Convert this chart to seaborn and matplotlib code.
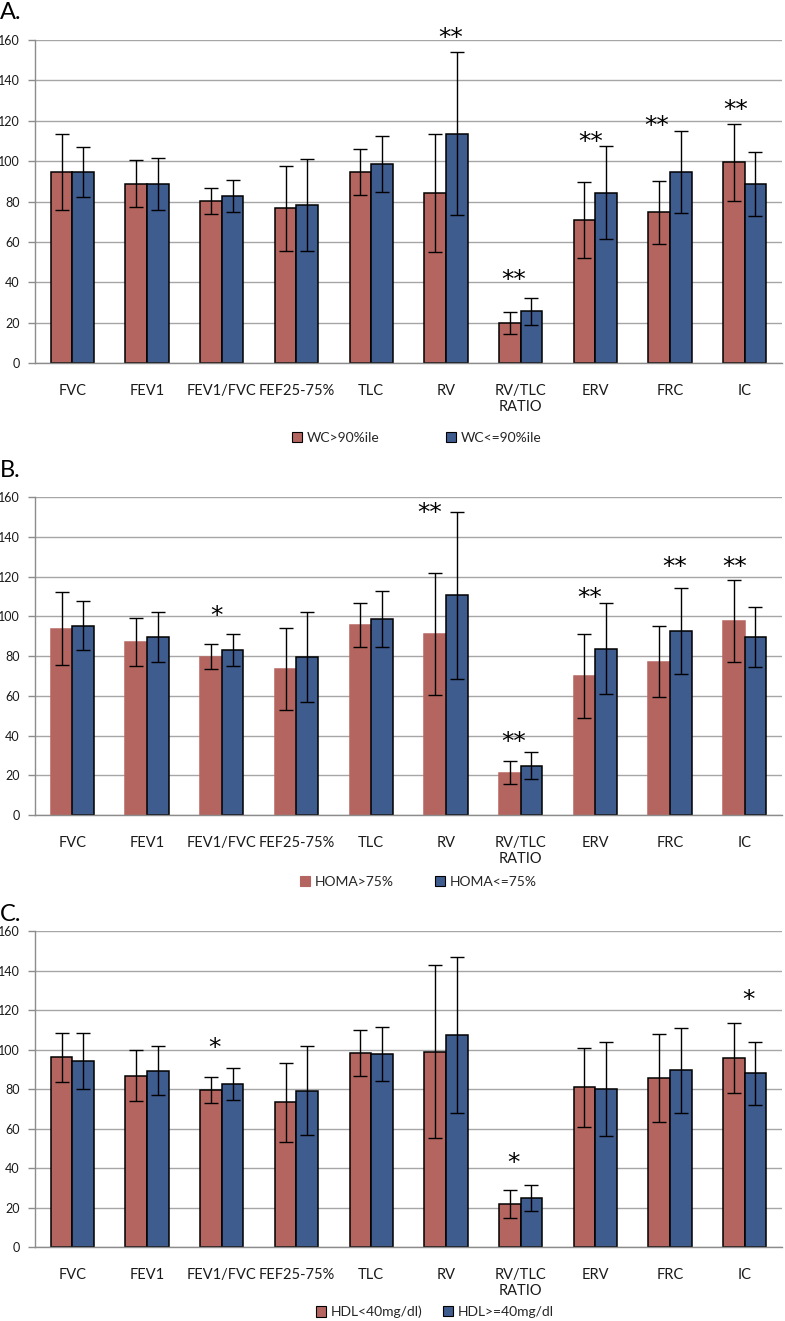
import matplotlib
matplotlib.use("Agg")
from matplotlib import pyplot as plt
import seaborn as sns
import pandas as pd

tests = ["FVC", "FEV1", "FEV1/FVC", "FEF25-75%", "TLC", "RV",
         "RV/TLC\nRATIO", "ERV", "FRC", "IC"]

# panel A: waist circumference
a_groups = ["WC>90%ile", "WC<=90%ile"]
a_hi_mean = [94.7, 88.9, 80.3, 76.7, 94.5, 84.1, 19.8, 70.9, 74.6, 99.5]
a_hi_sd = [18.8, 11.8, 6.5, 21.0, 11.5, 29.1, 5.3, 19.0, 15.8, 19.0]
a_lo_mean = [94.7, 88.9, 82.6, 78.4, 98.8, 113.6, 25.6, 84.3, 94.4, 88.7]
a_lo_sd = [12.5, 12.9, 8.0, 22.8, 13.9, 40.3, 6.8, 23.0, 20.3, 15.7]
a_stars = [(5.07, 164, "**"), (5.91, 43.7, "**"), (6.94, 112, "**"),
           (7.82, 120.4, "**"), (8.88, 128.3, "**")]

# panel B: HOMA
b_groups = ["HOMA>75%", "HOMA<=75%"]
b_hi_mean = [93.8, 87.0, 79.7, 73.5, 95.5, 91.0, 21.3, 70.0, 77.1, 97.5]
b_hi_sd = [18.4, 12.1, 6.4, 20.7, 11.1, 30.8, 5.9, 21.2, 17.9, 20.6]
b_lo_mean = [95.3, 89.6, 82.9, 79.4, 98.5, 110.6, 24.8, 83.8, 92.6, 89.6]
b_lo_sd = [12.3, 12.7, 8.1, 22.7, 14.1, 41.9, 6.8, 22.7, 21.5, 15.3]
b_stars = [(1.93, 103, "*"), (4.79, 155, "**"), (5.91, 39.7, "**"),
           (6.92, 111.9, "**"), (8.06, 127.8, "**"), (8.87, 127.8, "**")]

# panel C: HDL
c_groups = ["HDL<40mg/dl)", "HDL>=40mg/dl"]
c_hi_mean = [96.0, 86.8, 79.5, 73.2, 98.2, 98.9, 21.9, 80.8, 85.4, 95.7]
c_hi_sd = [12.3, 12.9, 6.7, 20.0, 11.6, 43.9, 7.2, 20.2, 22.3, 17.5]
c_lo_mean = [94.3, 89.3, 82.5, 79.2, 97.7, 107.3, 24.8, 80.0, 89.5, 87.9]
c_lo_sd = [14.3, 12.4, 8.1, 22.7, 13.7, 39.5, 6.6, 23.6, 21.4, 16.1]
c_stars = [(1.90, 103.5, "*"), (5.90, 45.6, "*"), (9.05, 127.8, "*")]

red = "#b5655f"
blue = "#3e5c8e"
W, H = 785, 1321

sns.set_theme(style="white")
plt.rcParams["font.family"] = ["Lato", "DejaVu Sans"]

fig = plt.figure(figsize=(W / 100, H / 100), dpi=100)

# letter, data, axes rect, letter y, red edge, legend y (px), legend x (px)
panels = [
    ("A.", a_groups, a_hi_mean, a_hi_sd, a_lo_mean, a_lo_sd, a_stars,
     [0.0446, 0.7252, 0.9516, 0.2445], 0.9905, True, 437.7, (292, 446)),
    ("B.", b_groups, b_hi_mean, b_hi_sd, b_lo_mean, b_lo_sd, b_stars,
     [0.0446, 0.3830, 0.9516, 0.2407], 0.6442, False, 881.7, (300, 435)),
    ("C.", c_groups, c_hi_mean, c_hi_sd, c_lo_mean, c_lo_sd, c_stars,
     [0.0446, 0.0560, 0.9516, 0.2392], 0.3080, True, 1312.0, (316, 443)),
]

for (letter, groups, hi_m, hi_s, lo_m, lo_s, stars, pos, letter_y,
     red_edge, leg_y, leg_x) in panels:
    ax = fig.add_axes(pos)
    df = pd.DataFrame({
        "test": tests * 2,
        "group": [groups[0]] * len(tests) + [groups[1]] * len(tests),
        "value": hi_m + lo_m,
    })
    sns.barplot(data=df, x="test", y="value", hue="group", order=tests,
                hue_order=groups, palette=[red, blue], width=0.58, gap=0,
                errorbar=None, edgecolor="black", linewidth=1.1, ax=ax,
                saturation=1)
    # error bars at bar centres
    for bars, sd in zip(ax.containers, [hi_s, lo_s]):
        xs = [p.get_x() + p.get_width() / 2 for p in bars]
        ys = [p.get_height() for p in bars]
        ax.errorbar(xs, ys, yerr=sd, fmt="none", ecolor="black",
                    elinewidth=1.0, capsize=5, capthick=1.0, zorder=5)
    if not red_edge:
        for p in ax.containers[0]:
            p.set_edgecolor(red)
    for x, y, s in stars:
        ax.annotate(s, (x, y), xytext=(0, -4), textcoords="offset points",
                    ha="center", va="center", fontsize=18, color="black",
                    family="DejaVu Sans", annotation_clip=False)

    ax.set_ylim(0, 160)
    ax.set_xlim(-0.5, len(tests) - 0.5)
    ax.set_yticks(range(0, 161, 20))
    ax.yaxis.grid(True, color="#a6a6a6", linewidth=1.0)
    ax.set_axisbelow(True)
    ax.set_xlabel("")
    ax.set_ylabel("")
    for s in ["top", "right"]:
        ax.spines[s].set_visible(False)
    for s in ["left", "bottom"]:
        ax.spines[s].set_color("#8c8c8c")
        ax.spines[s].set_linewidth(1.0)
    ax.set_xticks(range(len(tests)))
    ax.set_xticklabels(tests, fontsize=10.5, color="#1a1a1a", linespacing=1.2)
    ax.tick_params(axis="x", length=0, pad=15)
    ax.set_xticks([i + 0.5 for i in range(-1, len(tests))], minor=True)
    ax.tick_params(axis="x", which="minor", length=5, color="#8c8c8c",
                   width=1.0, direction="out")
    ax.tick_params(axis="y", length=5, color="#8c8c8c", width=1.0,
                   direction="out", labelsize=9, labelcolor="#1a1a1a",
                   pad=6, left=True)
    ax.legend_.remove()
    handles = [plt.Rectangle((0, 0), 1, 1, facecolor=red,
                             edgecolor="black" if red_edge else red, lw=0.8),
               plt.Rectangle((0, 0), 1, 1, facecolor=blue, edgecolor="black",
                             lw=0.8)]
    for h, lab, lx in zip(handles, groups, leg_x):
        fig.legend([h], [lab], loc="center left", frameon=False,
                   bbox_to_anchor=(lx / W, 1 - leg_y / H), borderpad=0,
                   borderaxespad=0, fontsize=10, handlelength=0.75,
                   handleheight=0.75, handletextpad=0.3)
    fig.text(0.0, letter_y, letter, fontsize=17, ha="left", va="center",
             color="black")

fig.savefig("out.png", dpi=100)
